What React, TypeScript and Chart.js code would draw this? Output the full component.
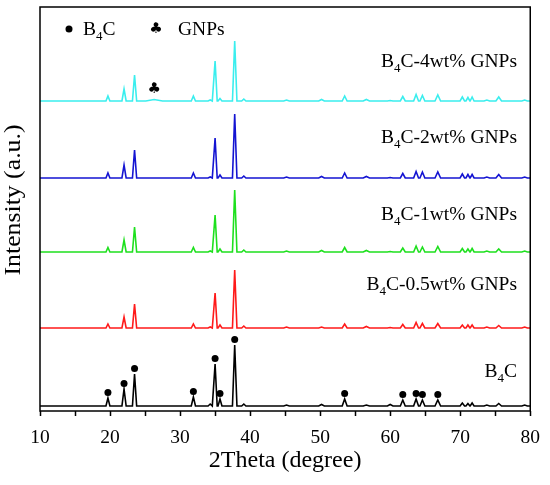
import { useEffect, useRef } from "react";
import { Chart, registerables } from "chart.js";

Chart.register(...registerables);

// 2Theta positions of the reflections (degree) and the half width at the foot of each peak
const peakPositions = [19.7, 22.0, 23.5, 26.3, 31.9, 34.3, 35.0, 35.7, 37.8, 39.1, 45.2, 50.2, 53.5, 56.6, 60.0, 61.8, 63.7, 64.6, 66.8, 70.3, 71.1, 71.7, 73.8, 75.5, 79.2];
const peakHalfWidths = [0.28, 0.3, 0.3, 1.2, 0.3, 0.3, 0.3, 0.28, 0.32, 0.3, 0.4, 0.4, 0.35, 0.45, 0.4, 0.35, 0.35, 0.35, 0.4, 0.32, 0.28, 0.28, 0.4, 0.4, 0.4];

// intensities (a.u.) for each peak, per sample
const heightsB4C = [8, 17, 32, 0, 9, 2, 42, 7, 61, 2, 1, 1.5, 7, 1, 1.5, 6, 7, 6, 6, 3, 2.5, 3, 1, 2.5, 1];
const heights05 = [4, 11, 24, 0, 4, 1, 35, 3, 58, 2, 1, 1, 4, 1.5, 0.5, 3.5, 5.5, 4.5, 4.5, 3, 3, 3, 1, 2.5, 1];
const heights1 = [4.5, 12, 25, 0, 4.5, 1, 37, 3, 62, 2, 1, 1.5, 4.5, 1.5, 0.5, 4, 6, 5, 5.5, 3.5, 3, 3.5, 1, 3, 1];
const heights2 = [5, 13, 28, 0, 5, 1, 40, 3, 64, 2, 1, 1.5, 5, 1.5, 0.5, 4.5, 6.5, 6, 6, 4, 3.5, 3.5, 1, 3.5, 1];
const heights4 = [5, 12, 26, 1.5, 5, 1, 40, 2.5, 60, 2, 1, 1.5, 5, 1.5, 0.5, 4.5, 6.5, 5.5, 6, 4, 3.5, 4, 1, 4, 1];

const seriesNames = ["B4C", "B4C-0.5wt% GNPs", "B4C-1wt% GNPs", "B4C-2wt% GNPs", "B4C-4wt% GNPs"];
const seriesHeights = [heightsB4C, heights05, heights1, heights2, heights4];
const seriesOffsets = [5, 83, 159, 233, 310];
const seriesColors = ["#000000", "#ff1a1a", "#1ee01e", "#1414d2", "#3aeeee"];

// B4C reflections marked with a dot on the bottom pattern, GNP reflection marked with a club
const markedPeaks = [0, 1, 2, 4, 6, 7, 8, 12, 15, 16, 17, 18];
const gnpPeak = 3;

const xTickLabels = [10, 20, 30, 40, 50, 60, 70, 80];

const SERIF = '"Liberation Serif", "Times New Roman", serif';

function tracePoints(heights: number[], offset: number) {
  const pts: { x: number; y: number }[] = [{ x: 10, y: offset }];
  peakPositions.forEach((p, i) => {
    const h = heights[i];
    if (!h) return;
    const w = peakHalfWidths[i];
    pts.push({ x: p - w, y: offset }, { x: p, y: offset + h }, { x: p + w, y: offset });
  });
  pts.push({ x: 80, y: offset });
  return pts;
}

function drawB4C(ctx: CanvasRenderingContext2D, rest: string, x: number, baseline: number, alignRight: boolean) {
  const main = `19.5px ${SERIF}`;
  const sub = `13px ${SERIF}`;
  ctx.font = main;
  const wB = ctx.measureText("B").width;
  const wRest = ctx.measureText(rest).width;
  ctx.font = sub;
  const w4 = ctx.measureText("4").width;
  const start = alignRight ? x - (wB + w4 + wRest) : x;
  ctx.textAlign = "left";
  ctx.textBaseline = "alphabetic";
  ctx.font = main;
  ctx.fillText("B", start, baseline);
  ctx.fillText(rest, start + wB + w4, baseline);
  ctx.font = sub;
  ctx.fillText("4", start + wB, baseline + 5);
}

const annotations = {
  id: "annotations",
  afterDatasetsDraw(chart: Chart) {
    const { ctx, chartArea: a, scales } = chart;
    const x = scales.x;
    const y = scales.y;
    ctx.save();
    ctx.fillStyle = "#000";

    // sample names, right aligned
    const baselines = [377, 290, 220, 143, 67];
    seriesNames.forEach((name, i) => {
      drawB4C(ctx, name.slice(2), 517, baselines[i], true);
    });

    // legend of the markers
    ctx.beginPath();
    ctx.arc(69, 29, 3.5, 0, Math.PI * 2);
    ctx.fill();
    drawB4C(ctx, "C", 83, 35, false);
    ctx.font = `15px "DejaVu Sans"`;
    ctx.textAlign = "center";
    ctx.textBaseline = "middle";
    ctx.fillText("\u2663", 156, 29);
    ctx.font = `19.5px ${SERIF}`;
    ctx.textAlign = "left";
    ctx.textBaseline = "alphabetic";
    ctx.fillText("GNPs", 178, 35);

    // club over the GNP reflection of the 4wt% pattern
    ctx.font = `15px "DejaVu Sans"`;
    ctx.textAlign = "center";
    ctx.textBaseline = "middle";
    ctx.fillText("\u2663", x.getPixelForValue(peakPositions[gnpPeak]), y.getPixelForValue(seriesOffsets[4] + 12));

    // y title
    ctx.save();
    ctx.translate(13.5, 200);
    ctx.rotate(-Math.PI / 2);
    ctx.scale(1.12, 1);
    ctx.font = `23px ${SERIF}`;
    ctx.fillText("Intensity (a.u.)", 0, 0);
    ctx.restore();

    // frame
    ctx.strokeStyle = "#000";
    ctx.lineWidth = 1.5;
    ctx.strokeRect(a.left, a.top, a.right - a.left, a.bottom - a.top);
    ctx.restore();
  },
};

export default function App() {
  const chartRef = useRef<HTMLCanvasElement>(null);
  const chartInstance = useRef<Chart | null>(null);

  useEffect(() => {
    document.body.style.margin = "0";
    if (!chartRef.current) return;
    if (chartInstance.current) chartInstance.current.destroy();
    const ctx = chartRef.current.getContext("2d");
    if (!ctx) return;

    const lineSets = seriesHeights.map((h, i) => ({
      type: "line" as const,
      label: seriesNames[i],
      data: tracePoints(h, seriesOffsets[i]),
      borderColor: seriesColors[i],
      borderWidth: 1.6,
      pointRadius: 0,
      tension: 0,
      fill: false,
    }));

    const markerSet = {
      type: "scatter" as const,
      label: "B4C peaks",
      data: markedPeaks.map((i) => ({ x: peakPositions[i], y: seriesOffsets[0] + heightsB4C[i] + 5.5 })),
      backgroundColor: "#000",
      borderWidth: 0,
      pointRadius: 3.5,
      showLine: false,
    };

    chartInstance.current = new Chart(ctx, {
      type: "line",
      data: { datasets: [...lineSets, markerSet] as any },
      options: {
        responsive: false,
        animation: false,
        layout: { padding: { top: 7, right: 18, bottom: 0, left: 0 } },
        plugins: { legend: { display: false }, tooltip: { enabled: false } },
        scales: {
          x: {
            type: "linear",
            min: 10,
            max: 80,
            afterFit: (s: any) => {
              s.height = 74;
            },
            ticks: {
              stepSize: 5,
              padding: 10,
              color: "#000",
              font: { family: SERIF, size: 19.5 },
              callback: (v: any) => (xTickLabels.includes(Number(v)) ? String(v) : ""),
            },
            grid: {
              display: true,
              drawOnChartArea: false,
              drawTicks: true,
              tickLength: 5,
              tickColor: "#000",
              tickWidth: 1.5,
            },
            border: { display: false },
            title: {
              display: true,
              text: "2Theta (degree)",
              color: "#000",
              font: { family: SERIF, size: 24 },
              padding: { top: 0, bottom: 10 },
            },
          },
          y: {
            type: "linear",
            min: 0,
            max: 404,
            afterFit: (s: any) => {
              s.width = 40;
            },
            ticks: { display: false },
            grid: { display: false },
            border: { display: false },
          },
        },
      },
      plugins: [annotations],
    });

    return () => {
      if (chartInstance.current) {
        chartInstance.current.destroy();
        chartInstance.current = null;
      }
    };
  }, []);

  return (
    <div style={{ width: 550, height: 485 }}>
      <canvas ref={chartRef} width={550} height={485}></canvas>
    </div>
  );
}
